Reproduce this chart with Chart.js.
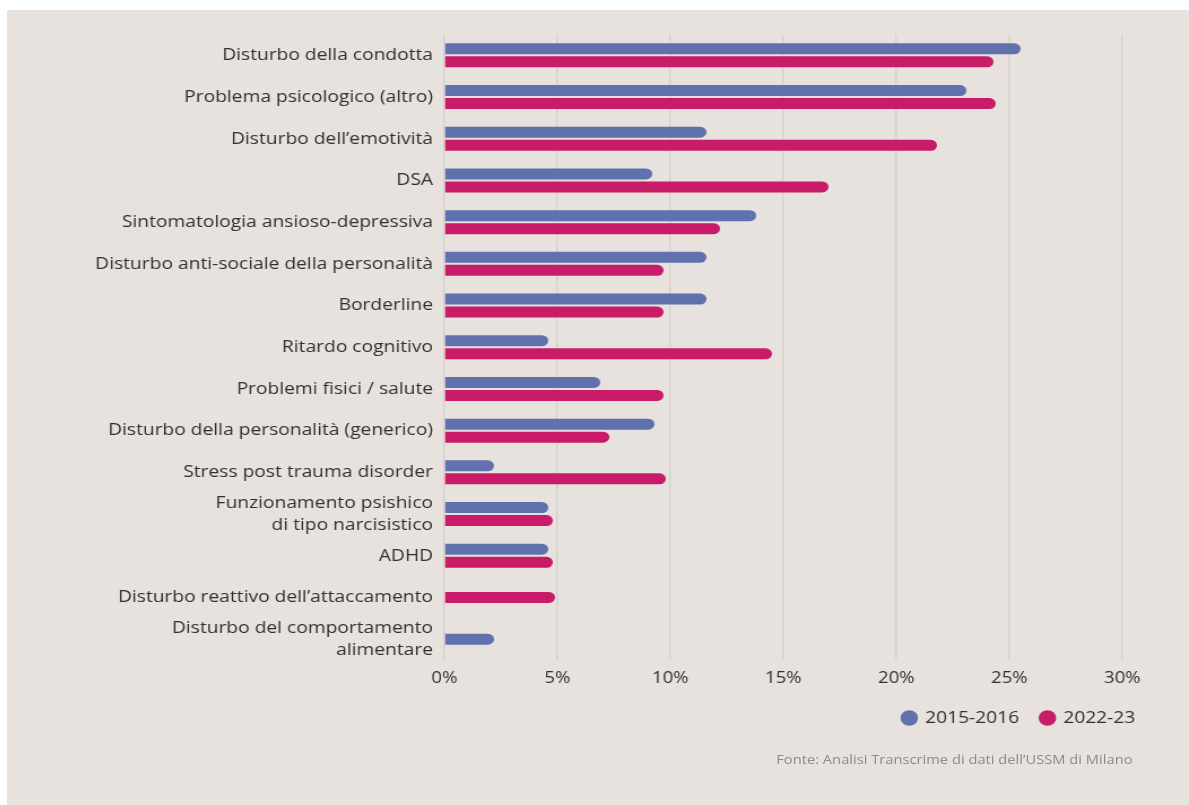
<!DOCTYPE html>
<html lang="it">
<head>
<meta charset="utf-8">
<title>Disturbi diagnosticati</title>
<script src="https://cdn.jsdelivr.net/npm/chart.js@4.4.1/dist/chart.umd.min.js"></script>
<style>
  html, body { margin: 0; padding: 0; background: #ffffff; overflow: hidden; }
  #panel {
    position: absolute;
    left: 7px; top: 10px;
    width: 1182px; height: 795px;
    background: #e7e2de;
    overflow: hidden;
  }
  /* the layout is drawn a little narrower and widened to the panel */
  #wrap {
    position: absolute;
    left: 0; top: 0;
    width: 1046px; height: 795px;
    transform: scaleX(1.13);
    transform-origin: 0 0;
  }
  #source {
    position: absolute;
    right: 50px; top: 740px;
    font: 13px 'Open Sans', 'Noto Sans', sans-serif;
    color: #8e8a88;
    white-space: nowrap;
  }
</style>
</head>
<body>
<div id="panel">
  <div id="wrap">
    <canvas id="chart" width="1046" height="795"></canvas>
    <div id="source">Fonte: Analisi Transcrime di dati dell’USSM di Milano</div>
  </div>
</div>
<script>
const categories = [
  'Disturbo della condotta',
  'Problema psicologico (altro)',
  'Disturbo dell\u2019emotività',
  'DSA',
  'Sintomatologia ansioso-depressiva',
  'Disturbo anti-sociale della personalità',
  'Borderline',
  'Ritardo cognitivo',
  'Problemi fisici / salute',
  'Disturbo della personalità (generico)',
  'Stress post trauma disorder',
  ['Funzionamento psishico', 'di tipo narcisistico'],
  'ADHD',
  'Disturbo reattivo dell\u2019attaccamento',
  ['Disturbo del comportamento', 'alimentare']
];

// percentuali per periodo (null = nessun caso, la barra non compare)
const values2015 = [25.5, 23.1, 11.6, 9.2, 13.8, 11.6, 11.6, 4.6, 6.9, 9.3, 2.2, 4.6, 4.6, null, 2.2];
const values2022 = [24.3, 24.4, 21.8, 17.0, 12.2, 9.7, 9.7, 14.5, 9.7, 7.3, 9.8, 4.8, 4.8, 4.9, null];

const seriesLabels = ['2015-2016', '2022-23'];
const xTicks = [0, 5, 10, 15, 20, 25, 30];

const BLUE = '#6171ad';
const PINK = '#c81c69';
const TEXT = '#332f2f';
const FONT = "'Open Sans', 'Noto Sans', sans-serif";

new Chart(document.getElementById('chart'), {
  type: 'bar',
  data: {
    labels: categories,
    datasets: [
      { label: seriesLabels[0], data: values2015, backgroundColor: BLUE },
      { label: seriesLabels[1], data: values2022, backgroundColor: PINK }
    ]
  },
  options: {
    indexAxis: 'y',
    responsive: false,
    animation: false,
    layout: { padding: { top: 24.5, right: 28, bottom: 68.5, left: 0 } },
    datasets: {
      bar: {
        categoryPercentage: 0.625,
        barPercentage: 0.85,
        maxBarThickness: 11,
        skipNull: true,
        borderRadius: 6,
        borderSkipped: 'start'
      }
    },
    scales: {
      x: {
        min: 0,
        max: 30,
        afterBuildTicks: axis => { axis.ticks = xTicks.map(v => ({ value: v })); },
        afterFit: axis => { axis.height = 30; },
        grid: { color: 'rgba(0,0,0,0.075)', lineWidth: 1.5, drawTicks: false },
        border: { display: false },
        ticks: {
          padding: 8,
          maxRotation: 0,
          color: TEXT,
          font: { family: FONT, size: 16.5, weight: 500 },
          callback: v => v + '%'
        }
      },
      y: {
        grid: { display: false },
        border: { display: false },
        afterFit: axis => {
          axis.width = 387;
          axis.paddingTop = 0;
          axis.paddingBottom = 0;
        },
        ticks: {
          autoSkip: false,
          padding: 2,
          color: TEXT,
          font: { family: FONT, size: 17, weight: 500, lineHeight: 1.25 }
        }
      },
      // empty strip on the right so the legend can sit past the plot edge
      gutter: {
        type: 'linear',
        axis: 'y',
        position: 'right',
        display: true,
        grid: { display: false },
        border: { display: false },
        ticks: { display: false },
        afterFit: axis => {
          axis.width = 31;
          axis.paddingTop = 0;
          axis.paddingBottom = 0;
        }
      }
    },
    plugins: {
      legend: {
        position: 'bottom',
        align: 'end',
        labels: {
          usePointStyle: true,
          pointStyle: 'circle',
          boxHeight: 11,
          boxWidth: 11,
          padding: 19.5,
          color: TEXT,
          font: { family: FONT, size: 17, weight: 500 }
        }
      },
      tooltip: { enabled: false }
    }
  }
});
</script>
</body>
</html>
